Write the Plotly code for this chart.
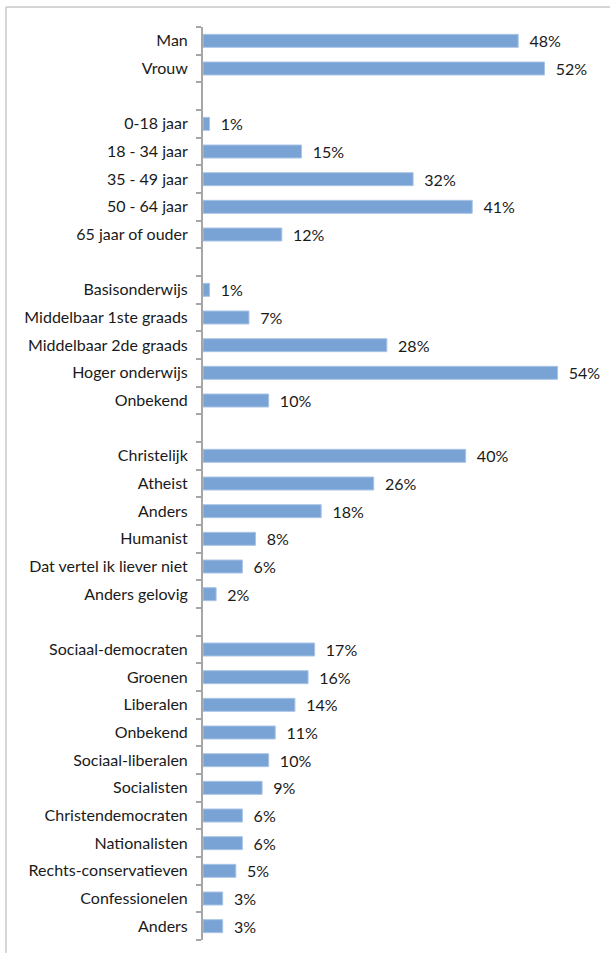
import plotly.graph_objects as go

groups = [
    (["Man", "Vrouw"], [48, 52]),
    (["0-18 jaar", "18 - 34 jaar", "35 - 49 jaar", "50 - 64 jaar", "65 jaar of ouder"],
     [1, 15, 32, 41, 12]),
    (["Basisonderwijs", "Middelbaar 1ste graads", "Middelbaar 2de graads", "Hoger onderwijs", "Onbekend"],
     [1, 7, 28, 54, 10]),
    (["Christelijk", "Atheist", "Anders", "Humanist", "Dat vertel ik liever niet", "Anders gelovig"],
     [40, 26, 18, 8, 6, 2]),
    (["Sociaal-democraten", "Groenen", "Liberalen", "Onbekend", "Sociaal-liberalen", "Socialisten",
      "Christendemocraten", "Nationalisten", "Rechts-conservatieven", "Confessionelen", "Anders"],
     [17, 16, 14, 11, 10, 9, 6, 6, 5, 3, 3]),
]

labels, values = [], []
for gi, (cats, vals) in enumerate(groups):
    if gi > 0:
        labels.append("")
        values.append(None)
    labels.extend(cats)
    values.extend(vals)

n = len(labels)
pos = list(range(n))
texts = ["" if v is None else "\u00a0\u00a0" + f"{v}%" for v in values]

FONT = "Lato, 'Open Sans', sans-serif"

fig = go.Figure(go.Bar(
    x=values, y=pos, orientation="h",
    marker=dict(color="#79A3D5", line=dict(color="#A9C4E6", width=1)),
    width=0.47,
    text=texts, textposition="outside", cliponaxis=False, constraintext="none",
    textfont=dict(family=FONT, size=16, color="#1a1a1a"),
))

fig.update_layout(
    width=610, height=953,
    margin=dict(l=203, r=13, t=27, b=13),
    paper_bgcolor="white", plot_bgcolor="white",
    showlegend=False,
    font=dict(family=FONT, size=16, color="#1a1a1a"),
    shapes=[
        dict(type="line", xref="paper", yref="paper", x0=-0.5, x1=1.1, y0=1.0219, y1=1.0219,
             line=dict(color="#C8C8C8", width=1.5), layer="below"),
        dict(type="line", xref="paper", yref="paper", x0=-0.5, x1=-0.5, y0=-0.1, y1=1.0219,
             line=dict(color="#C8C8C8", width=1.5), layer="below"),
    ],
)
fig.update_xaxes(range=[0, 60], visible=False, fixedrange=True)
fig.update_yaxes(
    range=[n - 0.5, -0.5],
    tickmode="array", tickvals=pos, ticktext=labels,
    ticks="", showgrid=False, zeroline=False,
    showline=True, linecolor="#A6A6A6", linewidth=2,
    ticklabelstandoff=10,
    tickfont=dict(family=FONT, size=16, color="#1a1a1a"),
    minor=dict(tickmode="array", tickvals=[p - 0.5 for p in pos] + [n - 0.5],
               ticks="outside", ticklen=5, tickcolor="#A6A6A6", tickwidth=2, showgrid=False),
)

fig.write_html("out.html")
